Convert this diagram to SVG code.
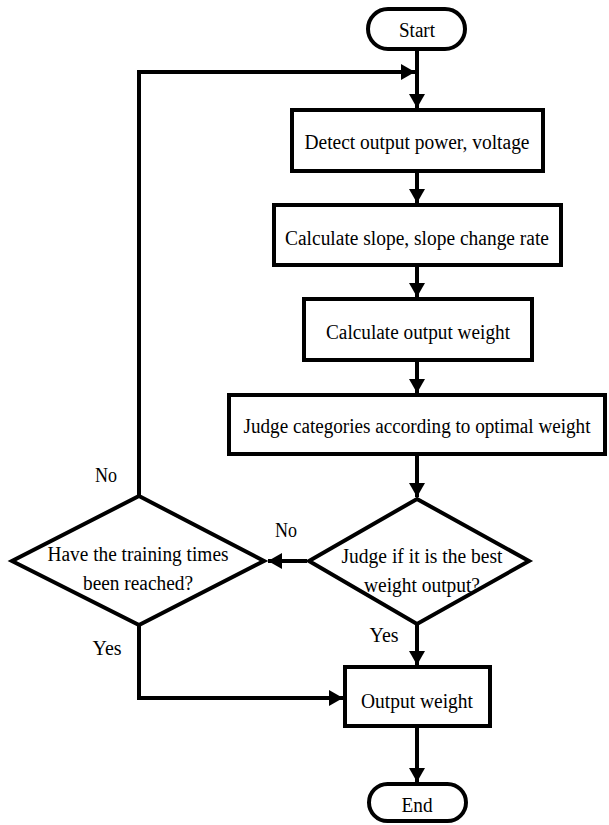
<svg xmlns="http://www.w3.org/2000/svg" width="609" height="825" viewBox="0 0 609 825">
<style>
  .shape { fill: #ffffff; stroke: #000000; stroke-width: 4; stroke-linejoin: miter; }
  .conn { fill: none; stroke: #000000; stroke-width: 4; stroke-linejoin: miter; }
  .t { font-family: 'Liberation Serif', 'DejaVu Serif', 'Times New Roman', serif; font-size: 20px; fill: #000000; text-anchor: middle; }
</style>
<defs>
  <marker id="arrow" markerUnits="userSpaceOnUse" markerWidth="15" markerHeight="16" refX="14" refY="8" orient="auto">
    <path d="M0,0 L14,8 L0,16 Z" fill="#000000"/>
  </marker>
</defs>
<rect width="609" height="825" fill="#ffffff"/>

<g id="connectors">
  <line class="conn" x1="417" y1="51" x2="417" y2="108" marker-end="url(#arrow)"/>
  <polyline class="conn" points="139,496 139,72 415,72" marker-end="url(#arrow)"/>
  <line class="conn" x1="417" y1="173" x2="417" y2="203" marker-end="url(#arrow)"/>
  <line class="conn" x1="417" y1="267" x2="417" y2="297" marker-end="url(#arrow)"/>
  <line class="conn" x1="417" y1="362" x2="417" y2="393" marker-end="url(#arrow)"/>
  <line class="conn" x1="417" y1="456" x2="417" y2="497" marker-end="url(#arrow)"/>
  <line class="conn" x1="307" y1="561" x2="268" y2="561" marker-end="url(#arrow)"/>
  <line class="conn" x1="417" y1="625" x2="417" y2="665" marker-end="url(#arrow)"/>
  <polyline class="conn" points="139,625 139,698 343,698" marker-end="url(#arrow)"/>
  <line class="conn" x1="417" y1="728" x2="417" y2="782" marker-end="url(#arrow)"/>
  <text class="t" font-family="Liberation Serif, serif" x="106" y="482" textLength="22" lengthAdjust="spacingAndGlyphs">No</text>
  <text class="t" font-family="Liberation Serif, serif" x="286" y="537" textLength="22" lengthAdjust="spacingAndGlyphs">No</text>
  <text class="t" font-family="Liberation Serif, serif" x="384" y="642" textLength="29" lengthAdjust="spacingAndGlyphs">Yes</text>
  <text class="t" font-family="Liberation Serif, serif" x="107" y="655" textLength="29" lengthAdjust="spacingAndGlyphs">Yes</text>
</g>

<g id="start">
  <rect class="shape" x="368" y="9" width="97" height="40" rx="20" ry="20"/>
  <text class="t" font-family="Liberation Serif, serif" x="417" y="37" textLength="36" lengthAdjust="spacingAndGlyphs">Start</text>
</g>

<g id="detect">
  <rect class="shape" x="292" y="110" width="251" height="61"/>
  <text class="t" font-family="Liberation Serif, serif" x="417" y="149" textLength="225" lengthAdjust="spacingAndGlyphs">Detect output power, voltage</text>
</g>

<g id="slope">
  <rect class="shape" x="274" y="205" width="287" height="60"/>
  <text class="t" font-family="Liberation Serif, serif" x="417" y="245" textLength="264" lengthAdjust="spacingAndGlyphs">Calculate slope, slope change rate</text>
</g>

<g id="calc-weight">
  <rect class="shape" x="304" y="299" width="228" height="61"/>
  <text class="t" font-family="Liberation Serif, serif" x="418" y="339" textLength="184" lengthAdjust="spacingAndGlyphs">Calculate output weight</text>
</g>

<g id="judge-categories">
  <rect class="shape" x="229" y="395" width="376" height="59"/>
  <text class="t" font-family="Liberation Serif, serif" x="417" y="433" textLength="347" lengthAdjust="spacingAndGlyphs">Judge categories according to optimal weight</text>
</g>

<g id="judge-best">
  <polygon class="shape" points="417,499 529,561 417,624 309,561"/>
  <text class="t" font-family="Liberation Serif, serif" x="422" y="563" textLength="161" lengthAdjust="spacingAndGlyphs">Judge if it is the best</text>
  <text class="t" font-family="Liberation Serif, serif" x="422" y="592" textLength="116" lengthAdjust="spacingAndGlyphs">weight output?</text>
</g>

<g id="training-times">
  <polygon class="shape" points="139,496 264,561 139,625 12,561"/>
  <text class="t" font-family="Liberation Serif, serif" x="138" y="561" textLength="181" lengthAdjust="spacingAndGlyphs">Have the training times</text>
  <text class="t" font-family="Liberation Serif, serif" x="138" y="590" textLength="110" lengthAdjust="spacingAndGlyphs">been reached?</text>
</g>

<g id="output-weight">
  <rect class="shape" x="345" y="667" width="145" height="59"/>
  <text class="t" font-family="Liberation Serif, serif" x="417" y="708" textLength="112" lengthAdjust="spacingAndGlyphs">Output weight</text>
</g>

<g id="end">
  <rect class="shape" x="369" y="784" width="97" height="37" rx="18.5" ry="18.5"/>
  <text class="t" font-family="Liberation Serif, serif" x="417" y="812" textLength="31" lengthAdjust="spacingAndGlyphs">End</text>
</g>
</svg>
